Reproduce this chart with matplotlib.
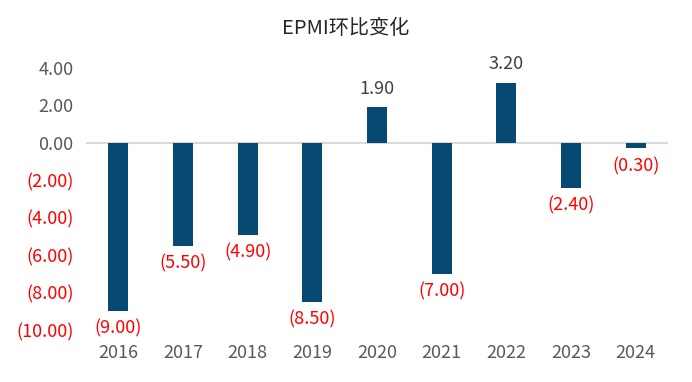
import numpy as np
import matplotlib.pyplot as plt

plt.rcParams['font.family'] = ['Noto Sans CJK SC', 'DejaVu Sans']

years = ['2016', '2017', '2018', '2019', '2020', '2021', '2022', '2023', '2024']
values = [-9.00, -5.50, -4.90, -8.50, 1.90, -7.00, 3.20, -2.40, -0.30]
title = 'EPMI环比变化'

def fmt(v):
    return f'({abs(v):.2f})' if v < 0 else f'{v:.2f}'

fig = plt.figure(figsize=(6.92, 3.82), dpi=100)
ax = fig.add_axes([86/692, 52/382, 582/692, 262/382])

x = np.arange(len(years))
ax.bar(x, values, width=0.31, color='#064A73', zorder=3)
ax.axhline(0, color='#D9D9D9', lw=1.5, zorder=2)

for xi, v in zip(x, values):
    if v < 0:
        ax.annotate(fmt(v), (xi, v), xytext=(0, -6), textcoords='offset points',
                    ha='center', va='top', color='#FF0000', fontsize=13,
                    annotation_clip=False)
    else:
        ax.annotate(fmt(v), (xi, v), xytext=(0, 7), textcoords='offset points',
                    ha='center', va='bottom', color='#404040', fontsize=13,
                    annotation_clip=False)

ax.set_xlim(-0.5, len(years) - 0.5)
ax.set_ylim(-10, 4)
yt = np.arange(-10, 5, 2)
ax.set_yticks(yt)
ax.set_yticklabels([fmt(v) for v in yt])
for lab, v in zip(ax.get_yticklabels(), yt):
    lab.set_color('#FF0000' if v < 0 else '#595959')
ax.set_xticks(x)
ax.set_xticklabels(years, color='#595959')
ax.tick_params(axis='both', length=0, labelsize=13)
ax.tick_params(axis='x', pad=10)
ax.tick_params(axis='y', pad=9)
for s in ax.spines.values():
    s.set_visible(False)

fig.text(0.5, 1 - 28/382, title, ha='center', va='center', fontsize=14.5, color='#262626')

fig.savefig('out.png', dpi=100)
